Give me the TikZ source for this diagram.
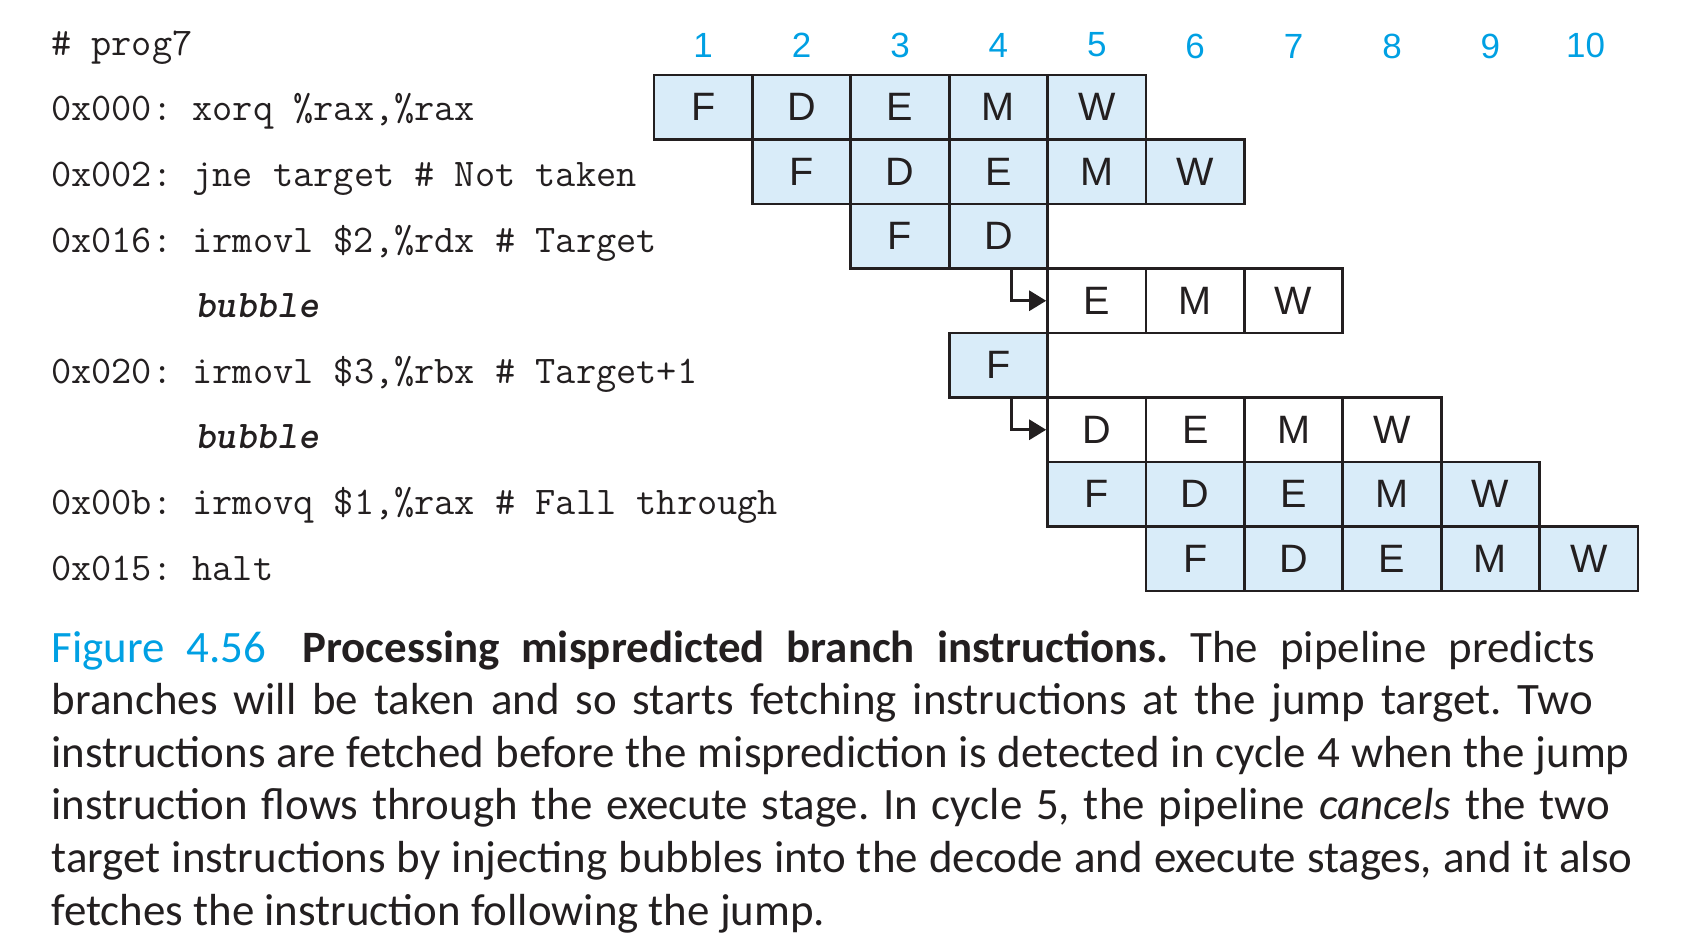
\documentclass[tikz,border=0pt]{standalone}
\usepackage{fontspec}
\usetikzlibrary{arrows.meta}
\newfontfamily\capfont{Carlito}
\newfontfamily\stagefont{Liberation Sans}
\frenchspacing
\definecolor{cyclecol}{RGB}{0,160,227}
\definecolor{stagefill}{RGB}{217,236,249}
\definecolor{inkcol}{RGB}{35,31,32}

\tikzset{
	stagebox/.style={draw=inkcol, line width=2.8pt, fill=stagefill, minimum width=98.4pt, minimum height=64.5pt, inner sep=0pt, text=inkcol, font=\stagefont\fontsize{39.6}{40}\selectfont},
	bubblebox/.style={stagebox, fill=white},
	cyclenum/.style={text=cyclecol, inner sep=0pt, font=\stagefont\fontsize{35}{36}\selectfont},
	codeline/.style={anchor=base west, inner sep=0pt, text=inkcol, font=\ttfamily\fontsize{39.2}{40}\selectfont},
	capline/.style={anchor=base west, inner sep=0pt, text=inkcol, font=\capfont\fontsize{44.9}{52.6}\selectfont},
	cancelarrow/.style={draw=inkcol, line width=2.8pt, -{Triangle[length=17pt,width=20pt]}}}

\begin{document}
\begin{tikzpicture}[x=1pt,y=1pt,yscale=-1,xscale=1]
	\useasboundingbox (0,0) rectangle (1682,950);

	% Cycle numbers
	\node[cyclenum] (cyc1) at (703.2,45) {1};
	\node[cyclenum] (cyc2) at (801.6,45) {2};
	\node[cyclenum] (cyc3) at (900,45) {3};
	\node[cyclenum] (cyc4) at (998.4,45) {4};
	\node[cyclenum] (cyc5) at (1096.8,45) {5};
	\node[cyclenum] (cyc6) at (1195.2,46) {6};
	\node[cyclenum] (cyc7) at (1293.6,46) {7};
	\node[cyclenum] (cyc8) at (1392,46) {8};
	\node[cyclenum] (cyc9) at (1490.4,46) {9};
	\node[cyclenum] (cyc10) at (1585.5,45) {10};

	% Code lines
	\node[codeline] (prog) at (51,55.3) {\# prog7};
	\node[codeline] (ins1) at (51,120.9) {0x000: xorq \%rax,\%rax};
	\node[codeline] (ins2) at (51,186.5) {0x002: jne target \# Not taken};
	\node[codeline] (ins3) at (51,252.1) {0x016: irmovl \$2,\%rdx \# Target};
	\node[codeline] (bub1) at (195,317.7) {\bfseries\itshape bubble};
	\node[codeline] (ins4) at (51,383.3) {0x020: irmovl \$3,\%rbx \# Target+1};
	\node[codeline] (bub2) at (195,448.9) {\bfseries\itshape bubble};
	\node[codeline] (ins5) at (51,514.5) {0x00b: irmovq \$1,\%rax \# Fall through};
	\node[codeline] (ins6) at (51,580.1) {0x015: halt};

	% Row 1: xorq
	\node[stagebox] (r1c1) at (703.2,107.25) {F};
	\node[stagebox] (r1c2) at (801.6,107.25) {D};
	\node[stagebox] (r1c3) at (900,107.25) {E};
	\node[stagebox] (r1c4) at (998.4,107.25) {M};
	\node[stagebox] (r1c5) at (1096.8,107.25) {W};
	% Row 2: jne
	\node[stagebox] (r2c2) at (801.6,171.75) {F};
	\node[stagebox] (r2c3) at (900,171.75) {D};
	\node[stagebox] (r2c4) at (998.4,171.75) {E};
	\node[stagebox] (r2c5) at (1096.8,171.75) {M};
	\node[stagebox] (r2c6) at (1195.2,171.75) {W};
	% Row 3: irmovl target
	\node[stagebox] (r3c3) at (900,236.25) {F};
	\node[stagebox] (r3c4) at (998.4,236.25) {D};
	% Row 4: bubble
	\node[bubblebox] (r4c5) at (1096.8,300.75) {E};
	\node[bubblebox] (r4c6) at (1195.2,300.75) {M};
	\node[bubblebox] (r4c7) at (1293.6,300.75) {W};
	% Row 5: irmovl target+1
	\node[stagebox] (r5c4) at (998.4,365.25) {F};
	% Row 6: bubble
	\node[bubblebox] (r6c5) at (1096.8,429.75) {D};
	\node[bubblebox] (r6c6) at (1195.2,429.75) {E};
	\node[bubblebox] (r6c7) at (1293.6,429.75) {M};
	\node[bubblebox] (r6c8) at (1392,429.75) {W};
	% Row 7: irmovq fall through
	\node[stagebox] (r7c5) at (1096.8,494.25) {F};
	\node[stagebox] (r7c6) at (1195.2,494.25) {D};
	\node[stagebox] (r7c7) at (1293.6,494.25) {E};
	\node[stagebox] (r7c8) at (1392,494.25) {M};
	\node[stagebox] (r7c9) at (1490.4,494.25) {W};
	% Row 8: halt
	\node[stagebox] (r8c6) at (1195.2,558.75) {F};
	\node[stagebox] (r8c7) at (1293.6,558.75) {D};
	\node[stagebox] (r8c8) at (1392,558.75) {E};
	\node[stagebox] (r8c9) at (1490.4,558.75) {M};
	\node[stagebox] (r8c10) at (1588.8,558.75) {W};

	% Bubble arrows
	\draw[cancelarrow] ([xshift=13.3pt]r3c4.south) |- (r4c5.west);
	\draw[cancelarrow] ([xshift=13.3pt]r5c4.south) |- (r6c5.west);

	% Caption
	\node[capline] (cap1) at (51.5,662) {\makebox[1543.5pt][s]{{\color{cyclecol}Figure 4.56}\kern36pt{\bfseries Processing mispredicted branch instructions.} The pipeline predicts}};
	\node[capline] (cap2) at (51.5,714.6) {\makebox[1541.5pt][s]{branches will be taken and so starts fetching instructions at the jump target. Two}};
	\node[capline] (cap3) at (51.5,767.2) {\makebox[1578pt][s]{instructions are fetched before the misprediction is detected in cycle 4 when the jump}};
	\node[capline] (cap4) at (51.5,819.8) {\makebox[1558.5pt][s]{instruction flows through the execute stage. In cycle 5, the pipeline \textit{cancels} the two}};
	\node[capline] (cap5) at (51.5,872.4) {\makebox[1581pt][s]{target instructions by injecting bubbles into the decode and execute stages, and it also}};
	\node[capline] (cap6) at (51.5,925) {fetches the instruction following the jump.};

\end{tikzpicture}
\end{document}
